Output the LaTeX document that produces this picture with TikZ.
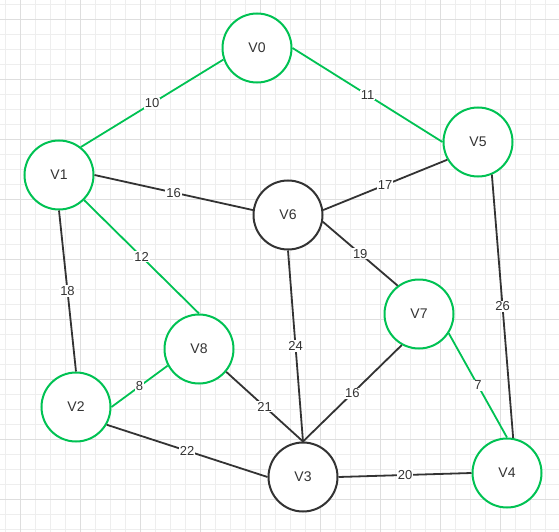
\documentclass[tikz,border=0pt]{standalone}
\usepackage{fontspec}
\setmainfont{Liberation Sans}
\definecolor{vgreen}{RGB}{0,194,83}
\definecolor{vdark}{RGB}{51,51,51}
\definecolor{gridminor}{RGB}{238,238,238}
\definecolor{gridmajor}{RGB}{222,222,222}

\begin{document}
\begin{tikzpicture}
    [x=1pt, y=-1pt,
    vertex/.style={circle, draw=vgreen, line width=2pt, fill=white, minimum size=69pt, inner sep=0pt, text=vdark, font=\fontsize{14}{14}\selectfont},
    hub/.style={vertex, draw=vdark},
    g/.style={draw=vgreen, line width=1.8pt},
    k/.style={draw=vdark, line width=1.8pt},
    w/.style={midway, fill=white, inner sep=1pt, text=vdark, font=\fontsize{13}{13}\selectfont}]
    \useasboundingbox (0,0) rectangle (559,532);
        %% grid
    \fill[white] (0,0) rectangle (559,532);
    \foreach \x in {5,20,...,559} \draw[gridminor, line width=0.8pt] (\x,0) -- (\x,532);
    \foreach \y in {4,19,...,532} \draw[gridminor, line width=0.8pt] (0,\y) -- (559,\y);
    \foreach \x in {20,80,...,559} \draw[gridmajor, line width=0.8pt] (\x,0) -- (\x,532);
    \foreach \y in {19,79,...,532} \draw[gridmajor, line width=0.8pt] (0,\y) -- (559,\y);

        %% vertices
    \node[vertex] (V0) at (257,48) {V0};
    \node[vertex] (V1) at (59,175) {V1};
    \node[vertex] (V2) at (76,407) {V2};
    \node[hub] (V3) at (303,477) {V3};
    \node[vertex] (V4) at (507,473) {V4};
    \node[vertex] (V5) at (478,142) {V5};
    \node[hub] (V6) at (288,215) {V6};
    \node[vertex] (V7) at (419,314) {V7};
    \node[vertex] (V8) at (199,349) {V8};

        %% edges
    \draw[g] (V1.52) to node[w] {10} (V0.199);
    \draw[g] (V0.east) to node[w] {11} (V5.west);
    \draw[k] (V1.east) to node[w] {16} (V6.172);
    \draw[g] (V1.315) to node[w] {12} (V8.north);
    \draw[k] (V1.south) to node[w] {18} (V2.north);
    \draw[k] (V6.8) to node[w] {17} (V5.210);
    \draw[k] (V6.349) to node[w] {19} (V7.127);
    \draw[k] (V6.south) to node[w] {24} (V3.north);
    \draw[k] (V5.293) to node[w] {26} (V4.80);
    \draw[g] (V7.327) to node[w] {7} (V4.north);
    \draw[k] (V7.241) to node[w] {16} (V3.north);
    \draw[k] (V8.320) to node[w] {21} (V3.north);
    \draw[g] (V8.208) to node[w] {8} (V2.east);
    \draw[k] (V2.330) to node[w] {22} (V3.west);
    \draw[k] (V3.east) to node[w] {20} (V4.west);
\end{tikzpicture}
\end{document}
